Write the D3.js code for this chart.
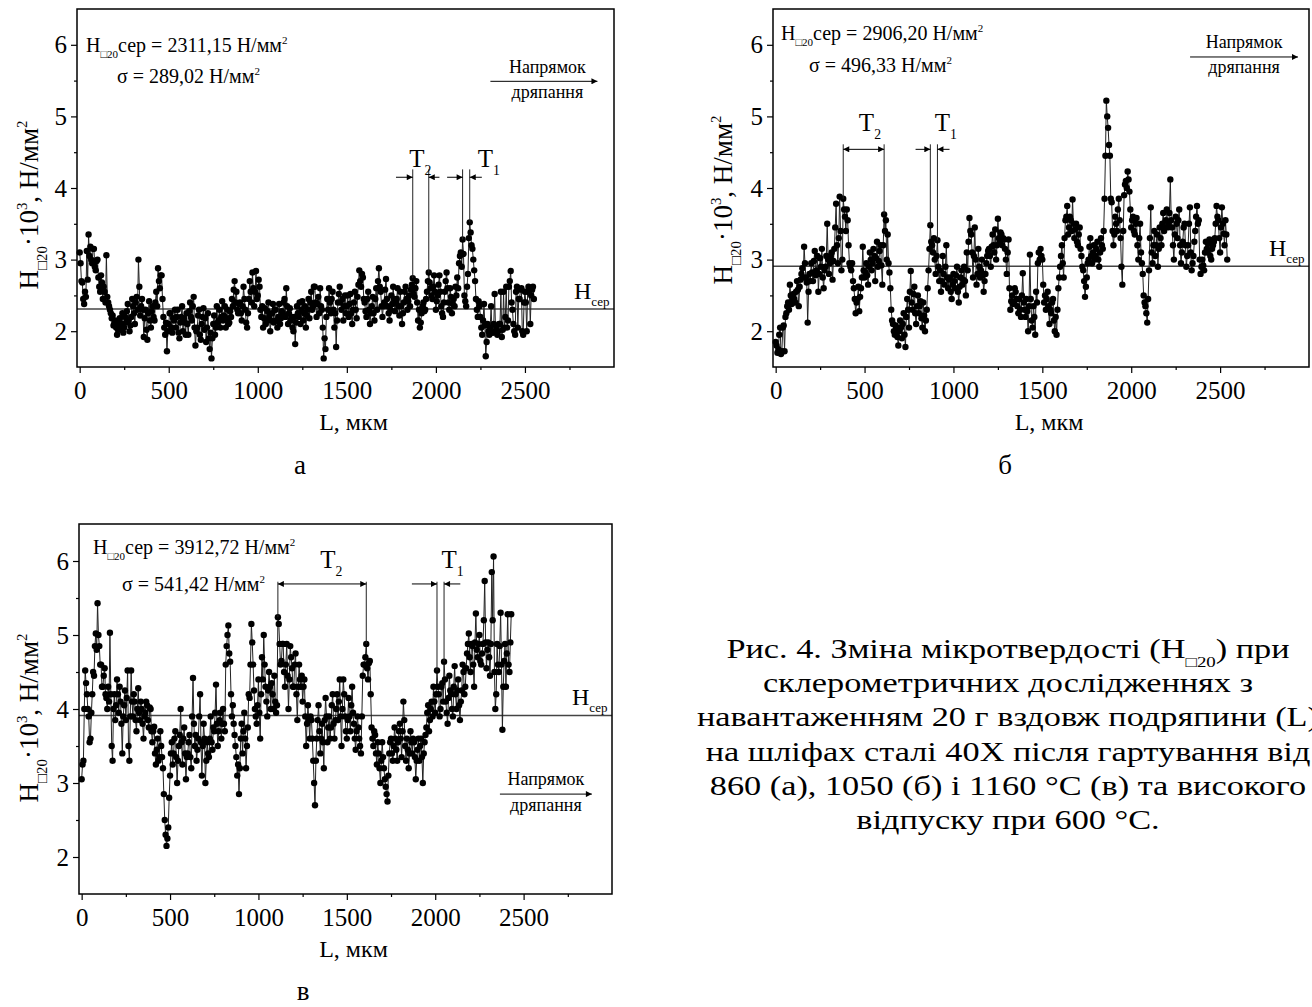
<!DOCTYPE html>
<html>
<head>
<meta charset="utf-8">
<script src="https://cdnjs.cloudflare.com/ajax/libs/d3/7.8.5/d3.min.js"></script>
<style>
  body { margin: 0; background: #fff; }
  svg { display: block; }
  text { font-family: "Liberation Serif", "Times New Roman", serif; fill: #000; }
</style>
</head>
<body>
<div id="chart"></div>
<script>
// sampling step along the scratch, мкм
var STEP = 5;

// microhardness along the scratch, 10^3 Н/мм2 (one value every STEP мкм, from L = 0)
var hardnessA = [
  3.10, 2.95, 2.70, 2.68, 2.45, 2.38, 2.55, 2.48, 3.12, 2.72, 3.35, 3.05, 3.18, 3.00, 2.95, 3.15, 3.15, 2.90, 2.85, 2.98,
  3.00, 2.75, 2.62, 2.55, 2.78, 2.68, 2.45, 2.62, 2.55, 2.40, 3.06, 2.48, 2.40, 2.35, 2.30, 2.25, 2.18, 2.22, 2.08, 2.12,
  2.15, 2.05, 1.95, 2.02, 2.10, 2.18, 2.02, 2.10, 2.25, 1.98, 2.05, 2.20, 2.12, 2.28, 2.38, 2.15, 2.00, 2.08, 2.20, 2.45,
  2.35, 2.25, 2.10, 2.40, 2.48, 2.30, 3.00, 2.62, 2.22, 2.35, 2.45, 2.30, 1.92, 2.18, 2.30, 2.02, 1.88, 2.25, 2.42, 2.15,
  2.05, 2.28, 2.35, 2.20, 2.15, 2.40, 2.55, 2.35, 2.88, 2.70, 2.60, 2.78, 2.78, 2.45, 2.20, 2.05, 1.95, 2.12, 1.72, 2.00,
  2.10, 2.25, 2.25, 2.05, 1.98, 2.18, 2.15, 2.30, 2.05, 2.20, 2.30, 1.98, 1.90, 2.12, 2.20, 2.35, 2.00, 2.18, 2.12, 1.95,
  2.25, 2.10, 1.95, 2.28, 2.40, 2.20, 2.15, 2.35, 2.48, 2.05, 1.80, 2.00, 2.05, 2.22, 2.30, 1.95, 1.88, 2.10, 2.20, 2.32,
  2.02, 2.18, 1.85, 2.05, 2.25, 1.90, 1.75, 1.98, 1.62, 1.90, 2.10, 2.22, 1.95, 2.05, 2.35, 2.12, 2.15, 2.30, 2.05, 2.20,
  2.42, 2.15, 2.22, 2.35, 2.05, 2.18, 2.30, 2.10, 2.12, 2.28, 2.20, 2.45, 2.35, 2.58, 2.70, 2.40, 2.55, 2.30, 2.25, 2.38,
  2.40, 2.25, 2.15, 2.35, 2.62, 2.45, 2.30, 2.12, 2.05, 2.25, 2.45, 2.70, 2.55, 2.40, 2.82, 2.60, 2.35, 2.55, 2.84, 2.45,
  2.50, 2.72, 2.62, 2.30, 2.20, 2.35, 2.05, 2.18, 2.32, 2.10, 2.15, 2.28, 2.40, 2.22, 2.00, 2.15, 2.25, 2.38, 2.12, 2.30,
  2.30, 2.15, 2.05, 2.20, 2.38, 2.10, 2.18, 2.28, 2.25, 2.40, 2.45, 2.20, 2.60, 2.35, 2.10, 2.25, 2.32, 2.15, 2.20, 2.05,
  2.00, 2.20, 1.82, 2.12, 2.35, 2.25, 2.20, 2.40, 2.10, 2.30, 2.42, 2.15, 2.25, 2.35, 2.05, 2.22, 2.30, 2.45, 2.18, 2.40,
  2.55, 2.30, 2.35, 2.62, 2.62, 2.40, 2.20, 2.38, 2.48, 2.25, 2.60, 2.35, 2.30, 2.05, 1.62, 1.90, 1.75, 2.20, 2.45, 2.30,
  2.60, 2.40, 2.25, 2.45, 2.55, 2.30, 2.05, 2.25, 1.78, 2.15, 2.40, 2.52, 2.62, 2.40, 2.30, 2.45, 2.15, 2.35, 2.50, 2.25,
  2.35, 2.50, 2.20, 2.38, 2.52, 2.25, 2.10, 2.30, 2.40, 2.55, 2.30, 2.18, 2.48, 2.65, 2.85, 2.70, 2.62, 2.80, 2.75, 2.45,
  2.40, 2.28, 2.20, 2.45, 2.55, 2.30, 2.10, 2.25, 2.35, 2.48, 2.25, 2.15, 2.45, 2.60, 2.30, 2.70, 2.88, 2.62, 2.55, 2.35,
  2.20, 2.35, 2.40, 2.58, 2.73, 2.45, 2.35, 2.25, 2.15, 2.30, 2.50, 2.38, 2.62, 2.45, 2.28, 2.40, 2.45, 2.60, 2.35, 2.22,
  2.55, 2.35, 2.10, 2.25, 2.40, 2.55, 2.62, 2.45, 2.30, 2.42, 2.50, 2.35, 2.58, 2.65, 2.74, 2.52, 2.48, 2.60, 2.70, 2.40,
  2.15, 2.30, 2.05, 2.12, 2.25, 2.35, 2.40, 2.28, 2.30, 2.45, 2.55, 2.70, 2.82, 2.68, 2.60, 2.50, 2.45, 2.62, 2.78, 2.55,
  2.30, 2.42, 2.50, 2.65, 2.78, 2.55, 2.35, 2.25, 2.20, 2.40, 2.55, 2.70, 2.82, 2.60, 2.40, 2.30, 2.60, 2.48, 2.25, 2.38,
  2.45, 2.35, 2.62, 2.50, 2.75, 2.60, 2.95, 3.05, 3.10, 2.90, 3.28, 3.08, 2.50, 2.42, 2.35, 2.62, 2.80, 3.30, 3.52, 3.38,
  3.20, 3.15, 3.00, 2.85, 2.70, 2.45, 2.30, 2.20, 2.42, 2.35, 2.20, 2.05, 1.95, 2.15, 2.38, 2.08, 1.65, 1.85, 2.10, 2.00,
  1.95, 2.05, 2.35, 1.98, 1.98, 2.10, 2.52, 2.00, 2.05, 1.95, 2.00, 2.10, 2.10, 2.55, 1.92, 2.02, 2.55, 2.05, 2.20, 2.62,
  2.05, 2.15, 2.62, 2.70, 2.84, 2.40, 2.30, 2.10, 2.00, 1.95, 2.55, 2.62, 2.05, 2.45, 2.45, 2.58, 2.60, 2.00, 1.95, 2.40,
  2.55, 2.40, 2.00, 2.55, 2.62, 2.58, 2.10, 2.50, 2.58, 2.62, 2.45
];

var hardnessB = [
  1.85, 1.80, 1.70, 1.75, 1.95, 2.05, 1.68, 1.72, 2.05, 2.08, 1.72, 2.20, 2.25, 2.35, 2.40, 2.30, 2.65, 2.50, 2.38, 2.45,
  2.52, 2.45, 2.40, 2.55, 2.70, 2.58, 2.35, 2.62, 2.72, 2.80, 2.88, 2.75, 3.18, 2.95, 2.75, 2.68, 2.12, 2.55, 2.80, 2.70,
  2.95, 2.82, 2.70, 2.98, 3.12, 2.78, 2.85, 3.05, 2.55, 2.80, 3.02, 2.90, 3.15, 2.75, 2.60, 2.85, 2.90, 3.05, 3.50, 3.00,
  2.80, 2.95, 3.05, 3.10, 2.72, 2.98, 3.15, 3.45, 3.78, 3.20, 2.95, 3.30, 3.88, 3.40, 2.85, 3.00, 3.85, 3.70, 3.60, 3.40,
  3.70, 3.55, 3.20, 2.95, 2.90, 2.85, 2.95, 2.70, 2.60, 2.45, 2.25, 2.40, 2.45, 2.62, 2.28, 2.48, 2.60, 2.75, 3.18, 2.85,
  2.75, 2.82, 2.95, 2.78, 2.65, 2.90, 3.10, 3.00, 2.85, 2.95, 3.15, 3.05, 2.70, 3.02, 3.25, 2.90, 2.98, 3.12, 3.20, 2.92,
  2.65, 3.20, 3.63, 3.40, 3.55, 3.00, 3.35, 2.95, 2.82, 2.60, 2.30, 2.15, 2.10, 2.00, 1.95, 2.08, 2.05, 1.92, 1.80, 2.00,
  2.15, 2.05, 1.90, 2.10, 2.25, 1.95, 1.78, 2.20, 2.45, 2.30, 2.05, 2.55, 2.84, 2.40, 2.30, 2.52, 2.62, 2.25, 2.10, 2.35,
  2.50, 2.25, 2.35, 2.42, 2.18, 2.05, 2.40, 2.22, 2.00, 2.15, 2.30, 2.60, 2.85, 3.15, 3.48, 3.25, 3.20, 3.10, 3.30, 3.00,
  2.80, 3.05, 3.27, 2.90, 2.70, 2.85, 2.55, 2.70, 3.05, 2.80, 2.65, 2.90, 3.20, 2.75, 2.60, 2.72, 2.75, 2.55, 2.45, 2.65,
  2.80, 2.70, 2.60, 2.78, 2.90, 2.55, 2.40, 2.62, 2.75, 2.85, 2.65, 2.72, 2.90, 2.70, 2.50, 3.10, 2.85, 3.25, 3.58, 3.40,
  3.35, 3.10, 2.75, 3.05, 3.45, 3.00, 2.65, 2.80, 3.15, 2.90, 2.75, 2.85, 3.00, 2.78, 2.55, 2.70, 2.80, 2.95, 3.05, 3.12,
  3.15, 3.05, 2.90, 3.18, 3.35, 3.20, 3.10, 3.42, 3.00, 3.20, 3.57, 3.30, 3.25, 3.38, 3.35, 3.20, 3.30, 3.28, 3.15, 3.00,
  2.80, 3.10, 3.28, 2.60, 2.30, 2.42, 2.50, 2.38, 2.40, 2.60, 2.55, 2.45, 2.35, 2.25, 2.45, 2.30, 2.20, 2.50, 2.81, 2.40,
  2.30, 2.20, 2.45, 2.28, 2.00, 2.35, 3.07, 2.45, 2.15, 2.05, 2.35, 2.20, 1.95, 2.55, 2.40, 2.95, 3.10, 3.00, 3.15, 3.05,
  3.00, 2.65, 2.40, 2.50, 2.30, 2.45, 2.55, 2.35, 2.10, 2.30, 2.25, 2.40, 2.45, 2.15, 2.00, 2.20, 1.95, 2.30, 2.60, 2.75,
  2.90, 3.05, 3.20, 2.95, 2.75, 3.30, 3.55, 3.60, 3.75, 3.35, 3.45, 3.60, 3.55, 3.40, 3.84, 3.50, 3.30, 3.42, 3.50, 3.25,
  3.20, 3.35, 3.45, 3.15, 3.05, 2.90, 2.85, 2.70, 2.48, 2.62, 2.75, 2.95, 3.00, 3.18, 3.30, 3.05, 2.95, 3.10, 3.20, 3.00,
  3.05, 3.15, 3.25, 3.00, 2.90, 3.10, 3.30, 3.20, 3.15, 3.40, 3.85, 4.45, 5.22, 5.00, 4.84, 4.60, 4.45, 3.85, 3.80, 3.40,
  3.20, 3.35, 3.60, 3.50, 3.40, 3.70, 3.85, 3.55, 3.30, 2.90, 2.65, 3.40, 3.90, 4.05, 4.10, 4.00, 4.23, 4.12, 3.95, 3.70,
  3.45, 3.55, 3.60, 3.40, 3.35, 3.50, 3.58, 3.20, 3.00, 3.30, 3.50, 3.10, 2.95, 2.80, 2.50, 2.40, 2.35, 2.25, 2.12, 2.45,
  2.85, 3.30, 3.73, 3.10, 2.95, 3.20, 3.40, 3.05, 3.20, 3.35, 2.90, 3.15, 3.45, 3.30, 3.20, 3.50, 3.65, 3.40, 3.45, 3.55,
  3.70, 3.45, 3.50, 3.65, 4.12, 3.55, 3.45, 3.20, 3.00, 3.35, 3.60, 3.50, 3.30, 3.55, 3.70, 3.20, 2.95, 3.10, 3.25, 3.45,
  3.50, 3.20, 2.90, 3.05, 3.20, 3.50, 3.73, 3.10, 2.85, 2.95, 3.05, 3.25, 3.40, 3.60, 3.75, 3.50, 3.55, 3.00, 2.80, 2.90,
  3.00, 2.92, 2.85, 3.10, 3.25, 3.15, 3.10, 3.22, 3.28, 3.05, 3.00, 3.15, 3.20, 3.25, 3.30, 3.50, 3.75, 3.60, 3.55, 3.30,
  3.10, 3.45, 3.73, 3.50, 3.36, 3.20, 3.55, 3.35, 3.00
];

var hardnessC = [
  3.05, 3.25, 3.30, 4.00, 4.52, 4.35, 4.20, 4.00, 3.90, 3.55, 3.60, 3.95, 4.20, 4.50, 4.45, 4.85, 5.02, 4.80, 5.43, 5.00,
  4.85, 4.60, 4.60, 4.30, 4.30, 4.45, 4.55, 4.20, 4.15, 4.00, 4.30, 4.10, 5.03, 4.20, 3.50, 3.30, 4.00, 4.20, 3.85, 4.05,
  4.40, 4.20, 3.95, 4.30, 4.10, 3.80, 3.40, 3.90, 4.05, 4.25, 3.85, 4.15, 4.52, 3.50, 3.30, 3.90, 4.52, 4.10, 3.90, 4.20,
  4.10, 3.85, 3.70, 4.00, 4.28, 3.95, 3.85, 4.10, 4.00, 3.80, 3.60, 3.90, 3.95, 4.10, 4.05, 3.85, 3.75, 4.02, 4.00, 3.70,
  3.55, 3.70, 3.76, 3.40, 3.25, 3.45, 3.60, 3.30, 3.35, 3.70, 3.50, 3.35, 3.20, 2.85, 2.50, 2.30, 2.15, 2.25, 2.40, 2.80,
  3.10, 3.40, 3.55, 3.25, 3.40, 3.60, 3.70, 3.35, 3.00, 3.30, 3.50, 3.65, 4.00, 3.55, 3.25, 3.60, 3.75, 3.40, 3.05, 3.35,
  3.40, 3.55, 3.65, 3.35, 3.20, 3.90, 4.42, 3.80, 3.50, 3.65, 3.30, 3.45, 3.60, 3.90, 4.20, 3.55, 3.10, 3.50, 3.80, 3.60,
  3.00, 3.30, 3.55, 3.40, 3.35, 3.60, 3.90, 3.55, 3.45, 3.75, 3.70, 3.95, 4.33, 3.80, 3.50, 3.70, 3.85, 3.95, 3.60, 3.80,
  4.00, 3.80, 3.70, 4.60, 4.85, 5.00, 5.13, 4.75, 4.64, 4.20, 3.90, 4.05, 3.80, 3.65, 3.50, 3.35, 3.10, 3.25, 2.85, 3.20,
  3.60, 3.80, 3.40, 3.70, 3.95, 3.60, 3.20, 3.50, 3.75, 4.20, 4.15, 4.60, 5.15, 4.90, 4.60, 4.25, 4.00, 3.90, 3.80, 4.05,
  4.40, 3.95, 3.60, 4.20, 4.70, 4.40, 5.00, 4.60, 4.30, 4.10, 3.90, 4.25, 4.50, 4.30, 4.00, 4.35, 4.20, 4.00, 4.45, 4.10,
  3.95, 4.05, 5.24, 5.15, 4.88, 4.60, 4.65, 4.88, 4.88, 4.50, 4.30, 4.60, 4.88, 4.45, 4.00, 4.40, 4.85, 4.70, 4.55, 4.30,
  4.30, 4.60, 4.75, 4.20, 3.85, 4.30, 4.60, 4.40, 4.30, 4.45, 4.10, 4.30, 4.40, 3.90, 3.50, 3.80, 4.05, 3.85, 3.60, 3.90,
  3.85, 3.60, 3.30, 3.00, 2.70, 3.30, 3.60, 3.85, 4.05, 3.70, 3.40, 3.60, 3.80, 3.55, 3.20, 3.85, 4.15, 3.90, 3.55, 3.75,
  3.90, 3.60, 3.75, 4.05, 4.20, 3.80, 3.60, 3.85, 4.00, 4.20, 3.85, 4.10, 4.40, 3.90, 3.50, 4.00, 4.40, 4.20, 3.90, 3.70,
  3.60, 3.85, 4.15, 3.90, 3.70, 4.05, 4.30, 3.95, 3.80, 3.60, 3.45, 3.70, 3.90, 3.75, 3.60, 3.50, 3.40, 3.90, 4.45, 4.60,
  4.60, 4.70, 4.88, 4.55, 4.40, 4.62, 4.65, 4.20, 3.75, 3.60, 3.50, 3.70, 3.65, 3.40, 3.25, 3.55, 3.40, 3.20, 3.00, 3.30,
  3.55, 3.35, 3.20, 3.05, 2.95, 2.85, 2.75, 3.10, 3.40, 3.55, 3.60, 3.40, 3.30, 3.50, 3.75, 3.60, 3.45, 3.30, 3.55, 3.70,
  3.80, 3.60, 3.35, 3.70, 4.10, 3.85, 3.50, 3.30, 3.60, 3.45, 3.20, 3.40, 3.70, 3.55, 3.40, 3.60, 3.55, 3.35, 3.05, 3.30,
  3.45, 3.60, 3.30, 3.50, 3.60, 3.35, 3.00, 3.40, 3.55, 3.65, 3.75, 3.95, 4.05, 3.70, 3.85, 4.00, 4.10, 3.90, 4.30, 4.10,
  3.95, 4.20, 4.52, 4.30, 4.20, 3.90, 4.00, 4.30, 4.35, 4.10, 4.64, 4.40, 4.10, 3.95, 3.80, 4.15, 4.45, 4.25, 4.20, 4.00,
  3.90, 4.30, 4.58, 4.20, 4.00, 4.25, 4.40, 4.05, 3.85, 4.10, 4.25, 4.60, 4.50, 4.20, 4.30, 4.55, 4.75, 4.88, 5.02, 4.70,
  4.50, 4.88, 4.85, 4.60, 4.30, 4.90, 5.29, 4.80, 4.70, 4.88, 5.00, 4.65, 4.60, 4.75, 4.88, 5.20, 5.73, 4.90, 4.55, 4.80,
  4.90, 4.70, 4.45, 4.88, 5.85, 5.20, 6.06, 4.50, 4.00, 4.20, 4.88, 4.60, 4.50, 4.85, 5.30, 4.60, 3.72, 4.30, 4.65, 4.88,
  4.30, 4.75, 5.28, 4.60, 4.50, 4.90, 5.28
];

// mean hardness (10^3 Н/мм2) and printed statistics
var meanValues = [2.31115, 2.90620, 3.91272];
var meanLabels = ["2311,15", "2906,20", "3912,72"];
var sigmaLabels = ["289,02", "496,33", "541,42"];
var panelLetters = ["а", "б", "в"];

// axis ticks
var xTicks = [0, 500, 1000, 1500, 2000, 2500];
var xMinor = [250, 750, 1250, 1750, 2250, 2750];
var yTicks = [2, 3, 4, 5, 6];
var yMinor = [2.5, 3.5, 4.5, 5.5];

// boundaries of the T2 and T1 zones, мкм
var zoneT2 = [[1870, 1960], [380, 610], [1110, 1610]];
var zoneT1 = [[2150, 2190], [870, 910], [2010, 2050]];

var captionLines = [
  "Рис. 4. Зміна мікротвердості (H|□20|) при",
  "склерометричних дослідженнях з",
  "навантаженням 20 г вздовж подряпини (L)",
  "на шліфах сталі 40Х після гартування від",
  "860 (а), 1050 (б) і 1160 °С (в) та високого",
  "відпуску при 600 °С."
];

var W = 1312, H = 1007;

var svg = d3.select("#chart")
  .append("svg")
  .attr("width", W)
  .attr("height", H);

var defs = svg.append("defs");
defs.append("marker")
  .attr("id", "head")
  .attr("viewBox", "0 0 10 10")
  .attr("refX", 10).attr("refY", 5)
  .attr("markerWidth", 9).attr("markerHeight", 6)
  .attr("markerUnits", "userSpaceOnUse")
  .attr("orient", "auto-start-reverse")
  .append("path")
  .attr("d", "M0,0 L10,5 L0,10 Z")
  .attr("fill", "#000");

// text with sub/superscripts: parts = [[text, "n"|"sub"|"sup"], ...]
function rich(sel, parts, fs) {
  var shift = 0;
  parts.forEach(function (p) {
    var target = p[1] === "sub" ? fs * 0.32 : (p[1] === "sup" ? -fs * 0.42 : 0);
    sel.append("tspan")
      .attr("dy", target - shift)
      .attr("font-size", p[1] === "n" ? fs : fs * 0.55)
      .text(p[0]);
    shift = target;
  });
}

// panel boxes and annotation placement (pixels / data units)
var panels = [
  { left: 77, right: 614, top: 9, bottom: 367, data: hardnessA,
    stat1: [86, 52], stat2: [117, 83], yTitle: [30, 205], xTitle: 430, letter: [300, 474],
    tTop: 4.26, tArrow: 4.15, tLabel: 4.30, t2Label: 1850, t1Label: 2235,
    t2Outer: [1776, 2020], t1Outer: [2063, 2258],
    dir: { x0: 2306, x1: 2907, y: 5.49, t1: 5.60, t2: 5.26, cx: 2626 } },
  { left: 773, right: 1309, top: 9, bottom: 367, data: hardnessB,
    stat1: [781, 40], stat2: [809, 72], yTitle: [724, 200], xTitle: 430, letter: [1005, 474],
    tTop: 4.61, tArrow: 4.54, tLabel: 4.80, t2Label: 468, t1Label: 895,
    t2Outer: null, t1Outer: [787, 978],
    dir: { x0: 2331, x1: 2938, y: 5.83, t1: 5.95, t2: 5.60, cx: 2635 } },
  { left: 79, right: 612, top: 524, bottom: 894, data: hardnessC,
    stat1: [93, 554], stat2: [122, 591], yTitle: [30, 718], xTitle: 957, letter: [303, 1000],
    tTop: 5.72, tArrow: 5.69, tLabel: 5.90, t2Label: 1350, t1Label: 2036,
    t2Outer: null, t1Outer: [1868, 2142],
    dir: { x0: 2366, x1: 2886, y: 2.85, t1: 2.97, t2: 2.62, cx: 2626 } }
];

panels.forEach(function (p, k) {
  var g = svg.append("g");

  var x = d3.scaleLinear().domain([-15, 3000]).range([p.left, p.right]);
  var y = d3.scaleLinear().domain([1.5, 6.5]).range([p.bottom, p.top]);

  var pts = p.data.map(function (v, i) { return { L: i * STEP, v: v }; });
  var valueAt = function (L) { return p.data[Math.round(L / STEP)]; };

  // axes
  g.append("g")
    .attr("transform", "translate(0," + p.bottom + ")")
    .call(d3.axisBottom(x).tickValues(xTicks).tickSize(6).tickPadding(8).tickFormat(d3.format("d")))
    .call(function (a) { a.select(".domain").remove(); });
  g.append("g")
    .attr("transform", "translate(0," + p.bottom + ")")
    .call(d3.axisBottom(x).tickValues(xMinor).tickSize(3).tickFormat(""))
    .call(function (a) { a.select(".domain").remove(); });
  g.append("g")
    .attr("transform", "translate(" + p.left + ",0)")
    .call(d3.axisLeft(y).tickValues(yTicks).tickSize(6).tickPadding(4).tickFormat(d3.format("d")))
    .call(function (a) { a.select(".domain").remove(); });
  g.append("g")
    .attr("transform", "translate(" + p.left + ",0)")
    .call(d3.axisLeft(y).tickValues(yMinor).tickSize(3).tickFormat(""))
    .call(function (a) { a.select(".domain").remove(); });

  g.selectAll(".tick line").attr("stroke", "#000").attr("stroke-width", 1.2);
  g.selectAll(".tick text")
    .attr("font-family", "Liberation Serif, serif")
    .attr("font-size", 25)
    .attr("fill", "#000");

  // mean line
  g.append("line")
    .attr("x1", p.left).attr("x2", p.right)
    .attr("y1", y(meanValues[k])).attr("y2", y(meanValues[k]))
    .attr("stroke", "#444").attr("stroke-width", 1.5);

  // series
  g.append("path")
    .datum(pts)
    .attr("fill", "none")
    .attr("stroke", "#222")
    .attr("stroke-width", 1)
    .attr("d", d3.line().x(function (d) { return x(d.L); }).y(function (d) { return y(d.v); }));

  g.selectAll("circle.pt")
    .data(pts)
    .enter().append("circle")
    .attr("class", "pt")
    .attr("cx", function (d) { return x(d.L); })
    .attr("cy", function (d) { return y(d.v); })
    .attr("r", 3.2)
    .attr("fill", "#000");

  // frame
  g.append("rect")
    .attr("x", p.left).attr("y", p.top)
    .attr("width", p.right - p.left).attr("height", p.bottom - p.top)
    .attr("fill", "none").attr("stroke", "#000").attr("stroke-width", 1.5);

  // T zones
  [zoneT2[k], zoneT1[k]].forEach(function (z) {
    z.forEach(function (L) {
      g.append("line")
        .attr("x1", x(L)).attr("x2", x(L))
        .attr("y1", y(p.tTop)).attr("y2", y(valueAt(L)))
        .attr("stroke", "#222").attr("stroke-width", 1);
    });
  });
  function outerArrows(z, outer) {
    [[outer[0], z[0]], [outer[1], z[1]]].forEach(function (s) {
      g.append("line")
        .attr("x1", x(s[0])).attr("x2", x(s[1]))
        .attr("y1", y(p.tArrow)).attr("y2", y(p.tArrow))
        .attr("stroke", "#000").attr("stroke-width", 1)
        .attr("marker-end", "url(#head)");
    });
  }
  if (p.t2Outer) {
    outerArrows(zoneT2[k], p.t2Outer);
  } else {
    g.append("line")
      .attr("x1", x(zoneT2[k][0])).attr("x2", x(zoneT2[k][1]))
      .attr("y1", y(p.tArrow)).attr("y2", y(p.tArrow))
      .attr("stroke", "#000").attr("stroke-width", 1)
      .attr("marker-start", "url(#head)")
      .attr("marker-end", "url(#head)");
  }
  outerArrows(zoneT1[k], p.t1Outer);

  [[p.t2Label, "2"], [p.t1Label, "1"]].forEach(function (t) {
    var txt = g.append("text")
      .attr("x", x(t[0]))
      .attr("y", y(p.tLabel))
      .attr("font-size", 25);
    rich(txt, [["T", "n"], [t[1], "sub"]], 25);
  });

  // H cep label
  var hc = g.append("text")
    .attr("x", p.right - 40)
    .attr("y", y(meanValues[k]) - 10)
    .attr("font-size", 24);
  hc.append("tspan").text("H");
  hc.append("tspan").attr("font-size", 13).attr("dy", 7).text("сер");

  // statistics
  var s1 = g.append("text").attr("x", p.stat1[0]).attr("y", p.stat1[1]).attr("font-size", 20);
  rich(s1, [["H", "n"], ["□20", "sub"], ["сер = " + meanLabels[k] + " Н/мм", "n"], ["2", "sup"]], 20);
  var s2 = g.append("text").attr("x", p.stat2[0]).attr("y", p.stat2[1]).attr("font-size", 20);
  rich(s2, [["σ = " + sigmaLabels[k] + " Н/мм", "n"], ["2", "sup"]], 20);

  // scratch direction
  g.append("line")
    .attr("x1", x(p.dir.x0)).attr("x2", x(p.dir.x1))
    .attr("y1", y(p.dir.y)).attr("y2", y(p.dir.y))
    .attr("stroke", "#000").attr("stroke-width", 1)
    .attr("marker-end", "url(#head)");
  g.append("text").attr("x", x(p.dir.cx)).attr("y", y(p.dir.t1))
    .attr("text-anchor", "middle").attr("font-size", 18).text("Напрямок");
  g.append("text").attr("x", x(p.dir.cx)).attr("y", y(p.dir.t2))
    .attr("text-anchor", "middle").attr("font-size", 18).text("дряпання");

  // axis titles
  g.append("text")
    .attr("x", (p.left + p.right) / 2 + 8)
    .attr("y", p.xTitle)
    .attr("text-anchor", "middle")
    .attr("font-size", 24)
    .text("L, мкм");

  var yt = g.append("text")
    .attr("transform", "translate(" + (p.yTitle[0] + 8) + "," + p.yTitle[1] + ") rotate(-90)")
    .attr("text-anchor", "middle")
    .attr("font-size", 27);
  rich(yt, [["H", "n"], ["□20", "sub"], ["·10", "n"], ["3", "sup"], [", Н/мм", "n"], ["2", "sup"]], 27);

  g.append("text")
    .attr("x", p.letter[0]).attr("y", p.letter[1])
    .attr("text-anchor", "middle")
    .attr("font-size", 27)
    .text(panelLetters[k]);
});

// caption (the source figure is stretched horizontally)
var cap = svg.append("g").attr("transform", "translate(1008,0) scale(1.27,1)");
captionLines.forEach(function (line, i) {
  var t = cap.append("text")
    .attr("x", 0)
    .attr("y", 658 + i * 34.2)
    .attr("text-anchor", "middle")
    .attr("font-size", 27);
  var parts = line.split("|");
  rich(t, parts.map(function (s, j) { return [s, j % 2 ? "sub" : "n"]; }), 27);
});
</script>
</body>
</html>
